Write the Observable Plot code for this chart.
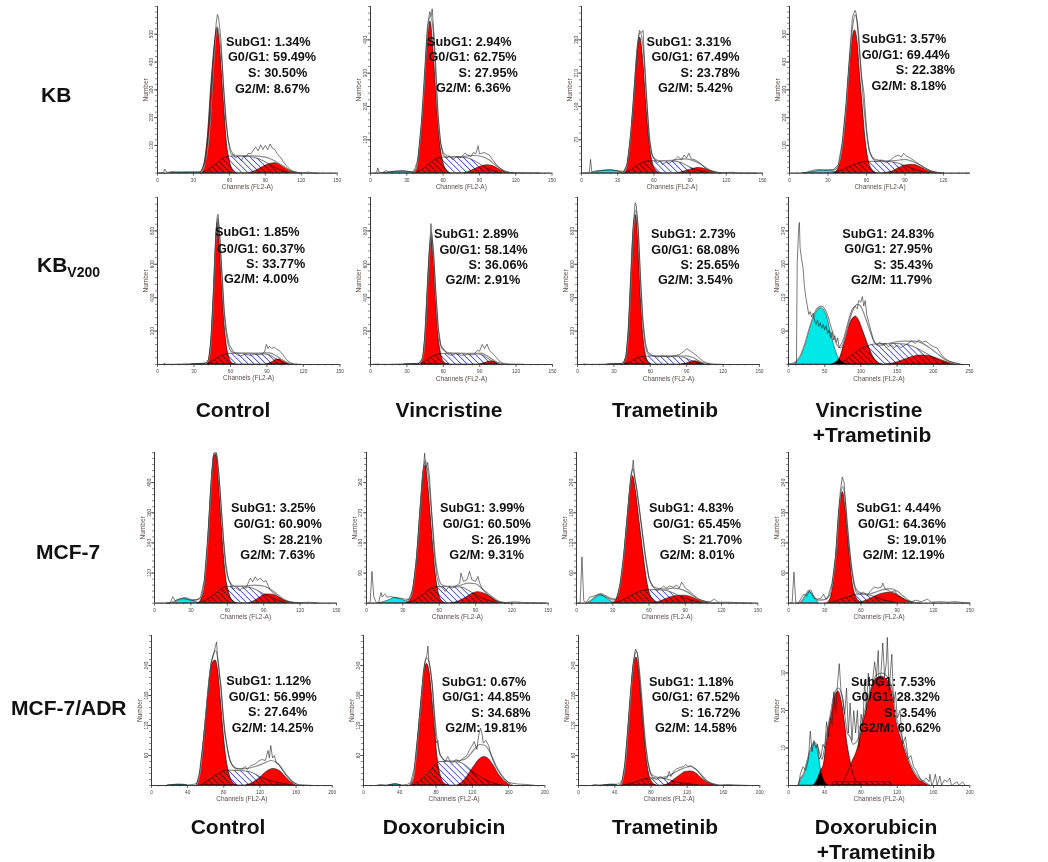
<!DOCTYPE html>
<html><head><meta charset="utf-8">
<script src="https://cdn.jsdelivr.net/npm/d3@7"></script>
<script src="https://cdn.jsdelivr.net/npm/@observablehq/plot@0.6"></script>
<style>
html,body{margin:0;background:#fff}
#fig{position:relative;width:1048px;height:862px;overflow:hidden;font-family:"Liberation Sans",Arial,sans-serif;color:#111}
#fig svg.plot,#fig>svg{position:absolute}
.t{position:absolute;white-space:nowrap;font-weight:bold}
.s{font-size:12.7px;line-height:14px}
.h{font-size:21px;line-height:24px}
.h sub{font-size:14px;line-height:0;vertical-align:-5px}
</style></head><body>
<svg width="0" height="0" style="position:absolute"><defs>
<pattern id="hatch" width="4.2" height="4.2" patternUnits="userSpaceOnUse" patternTransform="rotate(-45)"><rect x="0" y="0" width="0.85" height="4.2" fill="#4a50ee"/></pattern>
</defs></svg>
<div id="fig"></div>
<script>
// ---- axis values for the 16 panels (row by row)
const xMaxes=[150,150,150,141, 150,150,150,250, 150,150,150,150, 200,200,200,200];
const xSteps=[30,30,30,30, 30,30,30,50, 30,30,30,30, 40,40,40,40];
const yMaxes=[600,500,350,600, 1000,1000,1000,300, 600,450,300,300, 300,300,300,40];
const ySteps=[100,100,70,100, 200,200,200,60, 120,90,60,60, 60,60,60,10];
// ---- percentages
const subG1Pct=["1.34","2.94","3.31","3.57","1.85","2.89","2.73","24.83","3.25","3.99","4.83","4.44","1.12","0.67","1.18","7.53"];
const g0g1Pct=["59.49","62.75","67.49","69.44","60.37","58.14","68.08","27.95","60.90","60.50","65.45","64.36","56.99","44.85","67.52","28.32"];
const sPct=["30.50","27.95","23.78","22.38","33.77","36.06","25.65","35.43","28.21","26.19","21.70","19.01","27.64","34.68","16.72","3.54"];
const g2mPct=["8.67","6.36","5.42","8.18","4.00","2.91","3.54","11.79","7.63","9.31","8.01","12.19","14.25","19.81","14.58","60.62"];
// ---- KB control
const p1Sub=[[10,0],[14,2],[20,3],[28,3],[34,2],[38,0]];
const p1G1=[[36,0],[39,30],[42,130],[45,320],[48,470],[50,523],[52,470],[54,340],[56,215],[58,105],[60,50],[63,10],[66,0]];
const p1S=[[38,0],[44,15],[50,35],[56,55],[60,60],[70,60],[78,58],[85,50],[92,35],[98,20],[104,8],[110,0]];
const p1G2=[[76,0],[82,8],[88,22],[94,33],[98,36],[102,32],[106,22],[110,11],[114,3],[118,0]];
const p1Fit=[[36,0],[40,40],[44,180],[47,400],[50,528],[53,440],[56,260],[59,120],[62,68],[70,62],[80,62],[91,57],[98,44],[104,28],[110,12],[119,0]];
const p1Raw=[[0,0],[5,3],[6,15],[8,2],[12,6],[18,2],[25,3],[32,4],[36,6],[40,40],[44,200],[47,430],[49,540],[50,571],[51,560],[53,480],[55,320],[57,190],[59,120],[61,85],[63,70],[65,55],[67,60],[70,45],[72,62],[74,60],[76,72],[78,70],[82,95],[84,80],[86,102],[88,85],[90,100],[92,85],[94,105],[96,90],[98,85],[100,70],[103,55],[106,35],[109,20],[112,8],[116,3],[122,1],[126,4],[130,1],[135,0]];
// ---- KB vincristine
const p2Sub=[[10,0],[14,2],[20,4],[27,5],[33,3],[37,0]];
const p2G1=[[35,0],[38,10],[41,80],[44,210],[47,380],[49.5,455],[52,370],[54,260],[56,150],[58,75],[60,35],[63,8],[66,0]];
const p2S=[[37,0],[44,12],[50,30],[56,44],[60,47],[70,47],[78,46],[84,40],[90,28],[96,14],[102,5],[108,0]];
const p2G2=[[78,0],[84,8],[90,18],[97,24],[102,20],[107,10],[112,3],[116,0]];
const p2Fit=[[35,0],[38,15],[41,100],[44,240],[47,420],[49.5,470],[52,420],[55,210],[58,90],[61,58],[66,50],[75,50],[85,53],[92,50],[98,40],[104,22],[110,8],[118,0]];
const p2Raw=[[3,0],[5,2],[6,16],[7,3],[10,2],[13,8],[15,3],[20,6],[26,8],[32,5],[36,6],[39,40],[42,150],[45,320],[47,440],[49,485],[50,470],[51,493],[52,440],[54,320],[56,170],[58,90],[60,55],[63,45],[65,52],[68,40],[71,50],[75,48],[78,60],[80,55],[83,50],[85,62],[87,58],[89,82],[90,58],[94,62],[98,55],[101,40],[104,25],[108,12],[112,3],[120,2],[130,1],[140,0.5]];
// ---- KB trametinib
const p3Sub=[[8,0],[12,2],[18,5],[24,6],[30,4],[35,0]];
const p3G1=[[34,0],[37,8],[40,50],[43,130],[46,240],[48.5,285],[51,240],[53,170],[55,100],[57,50],[59,22],[62,5],[65,0]];
const p3S=[[36,0],[42,8],[48,18],[54,24],[60,25],[70,25],[78,24],[84,20],[90,12],[96,6],[102,2],[106,0]];
const p3G2=[[80,0],[86,4],[92,8.5],[97,11],[102,9],[107,5],[112,1],[116,0]];
const p3Fit=[[34,0],[37,10],[40,60],[43,150],[46,260],[48.5,295],[51,265],[54,150],[57,62],[60,32],[65,26],[75,27],[85,30],[92,27],[98,20],[104,10],[110,3],[116,0]];
const p3Raw=[[0,0],[5,1],[6.5,3],[7.5,29],[8.5,3],[12,5],[18,6],[24,7],[30,5],[35,4],[38,20],[41,90],[44,190],[46.5,270],[48,300],[49.5,295],[51,300],[52,250],[54,160],[56,75],[58,42],[60,30],[63,22],[65,25],[67,18],[70,23],[72,20],[75,25],[78,30],[80,35],[83,28],[85,38],[87,32],[89,42],[91,30],[94,28],[98,22],[102,12],[106,6],[110,3],[115,1],[125,2],[130,0.5],[145,0]];
// ---- KB vincristine + trametinib
const p4Sub=[[10,0],[15,2],[20,6],[26,9],[32,8],[36,3],[40,0]];
const p4G1=[[35,0],[38,15],[41,80],[44,210],[47,390],[49,480],[51,514],[53,470],[55,350],[57,240],[59,130],[61,60],[64,15],[68,0]];
const p4S=[[35,0],[42,12],[48,25],[55,37],[61,41],[72,41],[80,39],[86,33],[92,22],[98,12],[104,4],[110,0]];
const p4G2=[[74,0],[80,6],[86,20],[92,29],[96,30],[100,26],[105,15],[110,5],[115,0]];
const p4Fit=[[30,10],[35,12],[38,28],[41,95],[44,230],[47,420],[49,520],[51,570],[53,540],[55,420],[57,290],[59,190],[61,110],[64,60],[68,48],[75,44],[82,45],[90,50],[96,42],[102,28],[108,12],[115,3],[120,0]];
const p4Raw=[[12,0],[14,4],[18,10],[22,13],[26,12],[30,12],[34,12],[38,30],[41,110],[44,250],[47,440],[49,560],[51,586],[52,575],[54,470],[56,350],[58,290],[60,160],[62,85],[65,50],[68,42],[72,48],[75,38],[78,45],[82,60],[85,65],[87,58],[89,72],[91,62],[94,55],[98,42],[102,30],[106,18],[110,8],[114,3],[118,2],[120,0]];
// ---- KBV200 control
const p5Sub=[[28,0],[33,3],[37,4],[40,3],[43,0]];
const p5G1=[[39,0],[42,20],[44,120],[46,380],[48,720],[49.5,850],[51,740],[53,480],[55,250],[57,110],[59,40],[62,5],[64,0]];
const p5S=[[40,0],[46,20],[51,45],[56,60],[60,64],[72,64],[85,62],[92,55],[97,35],[102,15],[106,4],[110,0]];
const p5G2=[[90,0],[94,12],[98,28],[101,30],[104,20],[107,8],[110,2],[112,0]];
const p5Fit=[[39,0],[42,25],[44,135],[46,400],[48,740],[49.5,875],[51,770],[53,520],[55,290],[57,160],[59,100],[62,72],[70,68],[85,68],[92,70],[97,55],[102,30],[107,10],[112,0]];
const p5Raw=[[5,2],[5.5,8],[6,2],[12,1],[20,3],[30,5],[36,6],[40,10],[42,30],[44,150],[46,420],[48,770],[49,880],[49.8,900],[51,800],[53,560],[55,310],[57,190],[59,120],[62,80],[65,60],[68,50],[72,62],[76,55],[80,60],[85,58],[88,75],[89.5,120],[91,95],[92,110],[94,95],[96,105],[98,90],[100,85],[103,60],[106,30],[109,12],[112,4],[118,1]];
// ---- KBV200 vincristine
const p6Sub=[[28,0],[32,2],[36,3],[40,2],[43,0]];
const p6G1=[[40,0],[43,30],[45,150],[47,430],[49,690],[50.3,764],[52,620],[54,370],[56,170],[58,70],[60,20],[63,3],[65,0]];
const p6S=[[41,0],[46,20],[51,45],[56,60],[60,64],[72,64],[84,63],[91,58],[96,40],[100,20],[105,6],[108,0]];
const p6G2=[[90,0],[94,8],[98,17],[101,18],[105,10],[108,3],[110,0]];
const p6Fit=[[40,0],[43,35],[45,170],[47,450],[49,700],[50.3,790],[52,650],[54,400],[56,200],[58,110],[60,88],[64,72],[72,68],[85,67],[91,68],[96,52],[101,28],[106,8],[111,0]];
const p6Raw=[[2,1],[6,3],[8,1],[15,1],[25,3],[35,5],[40,8],[43,40],[45,190],[47,470],[49,740],[49.8,844],[50.5,780],[52,670],[54,420],[56,210],[58,115],[61,85],[64,60],[67,55],[70,65],[75,55],[80,60],[85,58],[88,85],[90,80],[92,120],[94,95],[96,122],[98,85],[100,72],[103,48],[106,22],[109,8],[115,3],[125,2],[128,0]];
// ---- KBV200 trametinib
const p7Sub=[[25,0],[29,2],[34,3],[38,2],[41,0]];
const p7G1=[[37,0],[40,40],[42,180],[44,480],[46,780],[48.3,894],[50,750],[52,430],[54,190],[56,70],[58,20],[61,0]];
const p7S=[[38,0],[44,15],[49,35],[54,46],[58,48],[70,48],[82,47],[88,40],[93,25],[98,10],[103,3],[106,0]];
const p7G2=[[86,0],[90,6],[94,17],[97,20],[100,15],[104,6],[107,1],[109,0]];
const p7Fit=[[37,0],[40,45],[42,195],[44,490],[46,800],[48.3,925],[50,790],[52,480],[54,240],[56,110],[58,65],[62,52],[72,50],[84,50],[90,52],[95,42],[100,22],[105,6],[110,0]];
const p7Raw=[[4,1],[6,3],[8,1],[15,1],[25,3],[35,5],[38,10],[40,50],[42,210],[44,520],[46,840],[47.5,968],[48.3,960],[50,830],[52,520],[54,260],[56,130],[58,75],[62,52],[66,45],[70,50],[75,45],[80,52],[84,60],[86,70],[88,80],[90,95],[92,85],[94,75],[97,60],[100,42],[103,22],[107,8],[112,3],[120,1]];
// ---- KBV200 vincristine + trametinib
const p8Sub=[[0,0],[8,2],[15,10],[22,30],[30,65],[38,92],[45,101],[52,90],[60,50],[66,22],[70,10],[78,2],[84,0]];
const p8G1=[[60,0],[66,4],[72,14],[78,42],[84,70],[90,84],[93,86],[97,80],[103,60],[110,35],[117,14],[124,3],[130,0]];
const p8S=[[70,0],[80,8],[90,18],[100,27],[110,33],[120,36],[140,37],[160,36],[170,33],[180,27],[190,20],[200,12],[210,6],[222,0]];
const p8G2=[[135,0],[145,2],[155,6],[165,11],[175,15],[185,16],[195,15],[205,11],[215,6],[225,2],[235,0]];
const p8Fit=[[0,0],[8,3],[15,12],[22,35],[30,70],[38,98],[45,105],[52,95],[60,62],[67,35],[72,30],[78,48],[84,78],[90,100],[95,108],[100,104],[106,85],[112,62],[118,42],[124,34],[132,36],[145,40],[160,42],[175,42],[185,38],[195,30],[205,20],[215,10],[225,4],[238,0]];
const p8Raw=[[10,0],[11,4],[12,180],[14,245],[15,255],[16,210],[18,190],[20,175],[22,140],[24,120],[26,105],[28,90],[30,95],[32,85],[34,92],[36,80],[38,72],[40,80],[42,68],[44,75],[46,65],[48,72],[50,62],[52,70],[54,55],[56,62],[58,48],[60,58],[62,44],[64,52],[66,40],[68,48],[70,30],[72,35],[74,40],[77,50],[80,65],[84,85],[88,100],[92,105],[95,100],[97,115],[100,112],[102,122],[104,105],[106,115],[108,90],[111,75],[114,60],[117,45],[120,38],[123,35],[126,40],[130,35],[134,38],[138,32],[142,36],[146,30],[150,35],[155,30],[160,34],[165,38],[170,42],[175,38],[180,44],[185,40],[190,42],[195,36],[200,32],[205,30],[210,20],[215,12],[222,6],[230,3],[240,0]];
// ---- MCF-7 control
const p9Sub=[[14,0],[18,8],[22,16],[25,20],[28,17],[32,9],[36,2],[38,0]];
const p9G1=[[36,0],[38,8],[41,60],[44,230],[47,470],[49,585],[51,590],[53,490],[55,340],[57,200],[59,100],[61,50],[64,12],[68,0]];
const p9S=[[37,0],[44,15],[50,35],[56,58],[60,65],[70,65],[78,62],[84,52],[90,36],[96,22],[102,10],[108,0]];
const p9G2=[[78,0],[83,10],[88,26],[92,35],[97,34],[102,25],[107,12],[112,3],[116,0]];
const p9Fit=[[10,0],[14,3],[18,10],[22,17],[25,22],[30,14],[35,14],[38,22],[41,80],[44,250],[47,490],[49,596],[51,598],[53,510],[55,370],[57,235],[59,135],[62,85],[66,68],[75,68],[82,72],[88,70],[94,60],[100,40],[106,18],[112,5],[120,0]];
const p9Raw=[[10,0],[13,2],[15,26],[17,10],[20,16],[24,18],[28,14],[32,10],[36,15],[38,25],[41,90],[44,270],[47,510],[49,598],[51,599],[53,520],[55,390],[57,250],[59,150],[61,95],[63,72],[65,55],[67,62],[70,50],[72,60],[75,60],[77,78],[79,100],[81,85],[83,105],[85,90],[87,100],[90,85],[92,90],[95,55],[98,40],[102,25],[106,12],[112,4],[120,2],[127,4],[135,1]];
// ---- MCF-7 doxorubicin
const p10Sub=[[10,0],[14,3],[18,8],[24,16],[28,12],[33,5],[36,0]];
const p10G1=[[33,0],[36,8],[39,50],[42,150],[45,300],[47,390],[48.7,411],[51,350],[53,260],[55,170],[57,90],[59,40],[62,8],[65,0]];
const p10S=[[35,0],[41,10],[47,25],[53,42],[58,48],[68,48],[78,47],[84,38],[90,25],[96,14],[102,6],[108,0]];
const p10G2=[[70,0],[76,5],[82,16],[88,29],[92,33],[97,29],[102,20],[107,8],[112,1],[115,0]];
const p10Fit=[[33,8],[36,15],[39,58],[42,160],[45,310],[47,400],[48.7,425],[51,380],[53,300],[55,215],[57,130],[59,85],[62,55],[68,50],[76,52],[84,60],[90,58],[96,42],[102,24],[108,8],[115,1],[120,0]];
const p10Raw=[[1,0],[3,2],[4.5,95],[6,20],[8,2],[10,2],[12,32],[13,18],[15,28],[17,18],[20,20],[24,16],[28,15],[32,12],[35,12],[38,40],[41,120],[44,270],[46.5,380],[48,448],[49,400],[50.5,420],[52,380],[54,260],[56,150],[58,80],[60,52],[63,45],[65,35],[68,50],[71,45],[74,52],[77,60],[78,90],[80,65],[83,70],[85,95],[87,70],[90,65],[92,80],[93.5,60],[96,40],[100,25],[105,10],[110,3],[115,2],[122,4],[130,2],[140,1],[148,0]];
// ---- MCF-7 trametinib
const p11Sub=[[10,0],[13,5],[17,12],[20,17],[23,13],[27,6],[31,0]];
const p11G1=[[30,0],[33,6],[36,30],[39,80],[42,160],[45,235],[46.6,253],[49,225],[52,165],[55,105],[58,50],[60,25],[63,8],[68,0]];
const p11S=[[32,0],[38,5],[44,13],[50,20],[56,25],[65,26],[73,25],[80,20],[86,13],[92,8],[98,3],[104,0]];
const p11G2=[[65,0],[70,4],[76,10],[82,14],[88,15],[94,13],[100,7],[106,2],[110,0]];
const p11Fit=[[8,0],[12,6],[16,14],[20,19],[24,15],[28,10],[32,8],[36,35],[39,90],[42,170],[45,248],[46.6,268],[49,240],[52,185],[55,130],[58,75],[61,42],[66,30],[74,28],[80,30],[86,28],[92,22],[98,12],[104,5],[112,1],[118,0]];
const p11Raw=[[1,0],[3,0],[4.5,92],[6,5],[8,1],[11,12],[14,14],[18,17],[22,15],[26,10],[30,6],[33,8],[36,38],[39,95],[42,175],[45,255],[46,265],[47,285],[48,250],[50,225],[52,190],[54,150],[57,95],[60,50],[63,33],[66,25],[69,28],[72,34],[74,30],[77,34],[80,32],[83,36],[85,30],[87,42],[90,30],[93,25],[97,16],[101,8],[106,4],[110,2],[114,8],[117,2],[125,2],[135,1],[145,0]];
// ---- MCF-7 doxorubicin + trametinib
const p12Sub=[[10,0],[12,4],[14,14],[16,20],[18,22],[20,15],[23,6],[25,0]];
const p12G1=[[32,0],[35,10],[37,40],[40,110],[42,180],[45,221],[47,190],[49,135],[51,85],[53,40],[55,18],[58,5],[62,0]];
const p12S=[[34,0],[40,4],[46,9],[52,14],[56,17],[62,17],[68,15],[74,10],[80,5],[86,2],[90,0]];
const p12G2=[[56,0],[62,3],[68,9],[74,16],[80,20],[85,21],[90,17],[95,9],[100,3],[104,0]];
const p12Fit=[[8,0],[11,5],[14,16],[16,24],[18,26],[21,14],[24,6],[30,7],[33,12],[35,22],[37,50],[40,118],[42,190],[45,232],[47,205],[49,150],[51,100],[53,60],[56,28],[60,20],[66,18],[72,22],[78,27],[84,29],[90,24],[95,14],[100,5],[106,1],[110,0]];
const p12Raw=[[1,0],[3,1],[4.5,62],[6,2],[8,0],[11,12],[13,18],[15,14],[17,24],[19,20],[21,10],[24,8],[27,10],[29,18],[31,8],[33,15],[36,40],[39,95],[41,170],[43,225],[44.5,251],[46,240],[48,170],[50,115],[52,70],[54,38],[56,22],[59,18],[62,22],[65,15],[68,25],[71,32],[74,30],[77,32],[78,40],[80,28],[83,25],[85,22],[88,25],[90,15],[93,12],[97,6],[102,3],[105,6],[110,3],[115,8],[118,2],[125,3],[132,2],[138,3],[145,1],[150,0]];
// ---- MCF-7/ADR control
const p13Sub=[[18,0],[24,1],[30,2],[36,1.5],[40,0]];
const p13G1=[[50,0],[54,25],[58,90],[62,170],[66,235],[69,248],[71,250],[74,225],[77,165],[80,100],[83,52],[86,24],[90,6],[95,0]];
const p13S=[[55,0],[62,8],[70,18],[78,27],[84,30],[95,29],[105,28],[112,25],[120,17],[130,10],[140,5],[150,2],[155,0]];
const p13G2=[[105,0],[112,5],[120,15],[128,28],[135,33],[142,29],[148,18],[154,7],[160,0]];
const p13Fit=[[50,0],[54,28],[58,98],[62,178],[66,245],[69,264],[71,270],[74,245],[77,190],[80,130],[83,85],[86,55],[90,40],[96,33],[105,34],[115,38],[125,45],[132,50],[138,47],[144,35],[150,20],[156,8],[163,0]];
const p13Raw=[[16,0],[20,1],[25,2],[32,2],[40,1],[46,2],[50,4],[53,25],[57,85],[60,135],[63,195],[66,245],[69,265],[71,280],[72,287],[73,260],[75,225],[77,200],[79,145],[81,105],[83,85],[85,65],[87,50],[90,38],[93,33],[96,34],[100,33],[104,38],[106,32],[110,40],[114,42],[118,48],[122,52],[126,50],[129,70],[130.5,55],[132,80],[134,55],[136,60],[138,45],[141,42],[145,30],[150,18],[155,8],[162,2],[170,1],[180,0]];
// ---- MCF-7/ADR doxorubicin
const p14Sub=[[28,0],[31,1.5],[35,3],[38,2],[42,0]];
const p14G1=[[52,0],[56,20],[60,90],[64,170],[67,225],[70,243],[73,225],[76,170],[79,105],[82,50],[85,20],[90,3],[94,0]];
const p14S=[[55,0],[62,8],[70,20],[78,38],[84,47],[96,47],[106,46],[114,38],[120,28],[128,18],[138,8],[146,3],[152,0]];
const p14G2=[[104,0],[110,8],[116,22],[122,38],[128,52],[133,57],[138,53],[144,38],[150,20],[156,8],[162,0]];
const p14Fit=[[50,0],[55,14],[60,98],[64,178],[67,238],[70,255],[73,240],[76,195],[79,130],[82,80],[85,60],[90,50],[97,49],[106,50],[114,55],[122,72],[128,82],[134,80],[140,65],[146,40],[152,22],[158,8],[165,0]];
const p14Raw=[[14,0],[18,2],[24,1],[30,2],[36,3],[42,1],[48,2],[52,6],[56,35],[60,105],[63,165],[66,225],[68,250],[70,262],[71,279],[72,250],[74,230],[76,200],[78,140],[80,85],[82,90],[84,62],[87,55],[90,48],[93,58],[95,50],[98,45],[102,52],[106,48],[110,55],[114,60],[117,72],[120,80],[122,88],[125,72],[127,100],[129,115],[130.5,105],[132,85],[135,90],[138,80],[141,58],[145,40],[149,28],[154,15],[160,6],[170,3],[180,2],[190,0]];
// ---- MCF-7/ADR trametinib
const p15Sub=[[28,0],[32,1],[36,2],[40,1.5],[43,0]];
const p15G1=[[46,0],[49,10],[52,45],[55,110],[58,180],[61,240],[64,256],[66,240],[69,180],[72,110],[75,55],[78,22],[82,5],[86,0]];
const p15S=[[50,0],[57,3],[65,7],[72,12],[78,14],[90,14],[98,12],[105,8],[112,5],[120,3],[128,1],[132,0]];
const p15G2=[[95,0],[100,4],[106,12],[112,20],[118,27],[124,28],[130,24],[136,14],[142,6],[148,2],[152,0]];
const p15Fit=[[46,0],[49,12],[52,50],[55,120],[58,190],[61,250],[64,268],[66,250],[69,195],[72,125],[75,70],[78,35],[82,20],[90,16],[100,20],[110,30],[118,36],[124,38],[130,32],[136,20],[142,9],[150,3],[156,0]];
const p15Raw=[[14,0],[18,2],[22,1],[30,2],[38,2],[44,3],[48,10],[51,42],[54,105],[57,180],[60,240],[62,265],[63,273],[65,265],[67,225],[70,160],[73,90],[76,50],[79,25],[82,15],[86,12],[90,18],[94,14],[98,16],[100,28],[102,18],[105,28],[108,33],[112,36],[116,38],[118,42],[121,38],[124,40],[127,35],[130,32],[134,24],[138,14],[143,7],[148,3],[155,1],[165,2],[175,1],[190,0]];
// ---- MCF-7/ADR doxorubicin + trametinib
const p16Sub=[[11,0],[14,2],[17,3],[20,5.5],[24,9],[28,11],[31,10.5],[34,7],[36,4],[40,1],[44,0]];
const p16G1=[[28,0],[32,1.5],[36,4],[39,5.5],[43,13.5],[47,18.5],[50,23],[55,25],[59,22],[62,17],[65,11],[68,7],[71,3.5],[75,1],[80,0]];
const p16S=[[48,0],[50,0.9],[60,0.9],[80,0.9],[100,0.9],[112,0.9],[114,0]];
const p16G2=[[58,0],[64,2.5],[70,6],[76,9.5],[83,17],[91,25],[97,28.5],[103,29],[109,28],[113,26],[120,16],[125,12],[131,7.5],[138,3.5],[144,1.5],[150,0.6],[156,0]];
const p16Fit=[[11,0],[14,2],[17,3],[20,6],[24,9.5],[28,11.5],[31,11],[34,9],[37,7],[39,9],[43,15],[47,20],[50,24],[55,26],[59,24],[62,19],[65,14],[68,13],[71,11],[76,12],[83,19],[91,26],[97,29.5],[103,30],[109,29],[113,27],[120,17],[125,13],[131,8],[138,4],[144,2],[150,1],[156,0]];
const p16Raw=[[11,0],[13,3],[16,5],[19,4],[22,7],[24,14.5],[26,9],[28,12],[30,10],[32,11],[34,7],[36,8],[38,11],[40,10],[42,17],[44,13],[46,18],[48,16],[50,25],[52,19],[54,27],[56,32.5],[58,25],[60,23],[62,19],[64,26],[66,14],[68,22],[70,12],[72,20],[74,14],[76,20],[78,10],[80,19],[82,16],[84,28],[86,20],[88,30],[90,24],[92,26],[95,33],[97,29],[99,36],[100,26],[102,30],[104,38],[106,29],[108,33],[109,39.5],[111,25],[113,32],[114,35],[116,22],[118,25],[120,18],[123,20],[126,11],[129,13],[132,7],[135,8],[138,5],[141,4],[145,2],[148,1],[152,2],[155,1],[156,3],[158,0],[160,1],[162,3],[164,0],[167,2.5],[169,0],[172,1.5],[175,1],[178,2],[180,0],[186,1],[188,0],[192,1],[195,0]];

const subs=[p1Sub,p2Sub,p3Sub,p4Sub,p5Sub,p6Sub,p7Sub,p8Sub,p9Sub,p10Sub,p11Sub,p12Sub,p13Sub,p14Sub,p15Sub,p16Sub];
const g1s=[p1G1,p2G1,p3G1,p4G1,p5G1,p6G1,p7G1,p8G1,p9G1,p10G1,p11G1,p12G1,p13G1,p14G1,p15G1,p16G1];
const ss=[p1S,p2S,p3S,p4S,p5S,p6S,p7S,p8S,p9S,p10S,p11S,p12S,p13S,p14S,p15S,p16S];
const g2s=[p1G2,p2G2,p3G2,p4G2,p5G2,p6G2,p7G2,p8G2,p9G2,p10G2,p11G2,p12G2,p13G2,p14G2,p15G2,p16G2];
const fits=[p1Fit,p2Fit,p3Fit,p4Fit,p5Fit,p6Fit,p7Fit,p8Fit,p9Fit,p10Fit,p11Fit,p12Fit,p13Fit,p14Fit,p15Fit,p16Fit];
const raws=[p1Raw,p2Raw,p3Raw,p4Raw,p5Raw,p6Raw,p7Raw,p8Raw,p9Raw,p10Raw,p11Raw,p12Raw,p13Raw,p14Raw,p15Raw,p16Raw];

// ---- layout (pixels on the page)
const x0s=[157.3,370,581,789, 156.6,370,577,788, 153.7,366,576,787.7, 151.3,363.3,578,787.7];
const x1s=[337,551.5,762,970, 339,552,759,969, 335.7,547.7,757.3,969, 332,544.7,759.3,969];
const rowTop=[6,197,452,635], rowBase=[172.7,364,602.7,785];
const lineX=[[226,228,248,235],[427,428.5,458.5,436],[646.6,651.5,680.6,658],[861.7,861.7,895.8,871.5],
 [215,217,246,224],[434,439.4,468.5,445.6],[651,651.3,680.4,658],[842.3,844.3,873.7,851],
 [231,233.7,263,240.3],[440,442.7,471.3,449.3],[649,653,682.7,659.7],[856.3,858,887,862.7],
 [226.3,228.7,248,231.7],[441.7,442.3,471.3,445.3],[649,651.7,681,655],[851,851.7,884,859]];
const lineY=[[42,57,73,89],[42,57,73,88],[42,57,73,88],[39,55,70,86],
 [232,249,264,279],[234,250,265,280],[234,250,265,280],[234,249,265,280],
 [508,524,540,555],[508,524,540,555],[508,524,540,555],[508,524,540,555],
 [681,697,712,728],[682,697,713,728],[682,697,713,728],[682,697,713,728]];

const fig=document.getElementById("fig");
const mL=26,mR=8,mT=3,mB=22,ink="#3a3a3a";
const X=d=>d[0],Y=d=>d[1];
for(let i=0;i<16;i++){
  const r=Math.floor(i/4), w=x1s[i]-x0s[i], h=rowBase[r]-rowTop[r];
  const xMajor=d3.range(0,xMaxes[i]+.01,xSteps[i]).filter(v=>v<=xMaxes[i]);
  const yMajor=d3.range(0,yMaxes[i]+.01,ySteps[i]).slice(0,-1);
  const xMinor=d3.range(0,xMaxes[i]+.01,xSteps[i]/5);
  const yMinor=d3.range(0,yMaxes[i]+.01,ySteps[i]/5);
  const svg=Plot.plot({
    width:w+mL+mR,height:h+mT+mB,marginLeft:mL,marginRight:mR,marginTop:mT,marginBottom:mB,
    style:{background:"transparent",overflow:"visible",fontFamily:"'Liberation Sans',Arial,sans-serif",maxWidth:"none"},
    x:{domain:[0,xMaxes[i]],label:null},y:{domain:[0,yMaxes[i]],label:null},
    marks:[
      Plot.areaY(subs[i],{x:X,y:Y,fill:"#00e8e8",stroke:"#111",strokeWidth:.5,curve:"monotone-x",mixBlendMode:"multiply"}),
      Plot.areaY(g1s[i],{x:X,y:Y,fill:"#ff0000",stroke:"#111",strokeWidth:.7,curve:"monotone-x",mixBlendMode:"multiply"}),
      Plot.areaY(g2s[i],{x:X,y:Y,fill:"#ff0000",stroke:"#111",strokeWidth:.6,curve:"monotone-x",mixBlendMode:"multiply"}),
      Plot.areaY(ss[i],{x:X,y:Y,fill:"url(#hatch)",stroke:"#111",strokeWidth:.6,curve:"monotone-x",mixBlendMode:"multiply"}),
      Plot.lineY(fits[i],{x:X,y:Y,stroke:"#8a8a8a",strokeWidth:1.2,curve:"monotone-x"}),
      Plot.lineY(raws[i],{x:X,y:Y,stroke:"#222",strokeWidth:.6}),
      Plot.ruleY([0],{stroke:ink,strokeWidth:1.2}),
      Plot.ruleX([0],{stroke:ink,strokeWidth:1}),
      Plot.axisX({ticks:xMinor,tickSize:1.5,fill:"none",stroke:ink,strokeWidth:.6,label:null}),
      Plot.axisY({ticks:yMinor,tickSize:2,fill:"none",stroke:ink,strokeWidth:.6,label:null}),
      Plot.axisX({ticks:xMajor,tickSize:3,tickPadding:2,fontSize:4.8,stroke:ink,strokeWidth:.7,color:"#444",tickFormat:d=>String(d),label:null}),
      Plot.axisY({ticks:yMajor.slice(1),tickSize:3,tickPadding:1,tickRotate:-90,fontSize:4.8,stroke:ink,strokeWidth:.7,color:"#444",tickFormat:d=>String(d),label:null}),
      Plot.axisX({ticks:[],tickSize:0,fontSize:6.5,color:"#5a4a44",label:"Channels (FL2-A)",labelAnchor:"center",labelArrow:"none",labelOffset:16}),
      Plot.axisY({ticks:[],tickSize:0,fontSize:6.5,color:"#5a4a44",label:"Number",labelAnchor:"center",labelArrow:"none",labelOffset:14})
    ]
  });
  svg.style.left=(x0s[i]-mL)+"px"; svg.style.top=(rowTop[r]-mT)+"px"; svg.style.position="absolute";
  fig.appendChild(svg);
}
function addText(html,x,y,cls,anchor){
  const el=document.createElement("div"); el.className="t "+cls; el.innerHTML=html;
  el.style.left=x+"px"; el.style.top=y+"px";
  el.style.transform=anchor==="mid"?"translate(-50%,-50%)":"translateY(-50%)";
  fig.appendChild(el);
}
for(let i=0;i<16;i++){
  const lines=[`SubG1: ${subG1Pct[i]}%`,`G0/G1: ${g0g1Pct[i]}%`,`S: ${sPct[i]}%`,`G2/M: ${g2mPct[i]}%`];
  lines.forEach((t,k)=>addText(t,lineX[i][k],lineY[i][k],"s"));
}
const rowLabels=["KB","KB<sub>V200</sub>","MCF-7","MCF-7/ADR"], rowLabelX=[41,37,36,11], rowLabelY=[95,265,552,708];
rowLabels.forEach((t,k)=>addText(t,rowLabelX[k],rowLabelY[k],"h"));
const colLabels=["Control","Vincristine","Trametinib","Vincristine","+Trametinib","Control","Doxorubicin","Trametinib","Doxorubicin","+Trametinib"];
const colLabelX=[233,449,665,869,872,228,444,665,876,876], colLabelY=[410,410,410,410,435,827,827,827,827,852];
colLabels.forEach((t,k)=>addText(t,colLabelX[k],colLabelY[k],"h","mid"));
</script></body></html>
